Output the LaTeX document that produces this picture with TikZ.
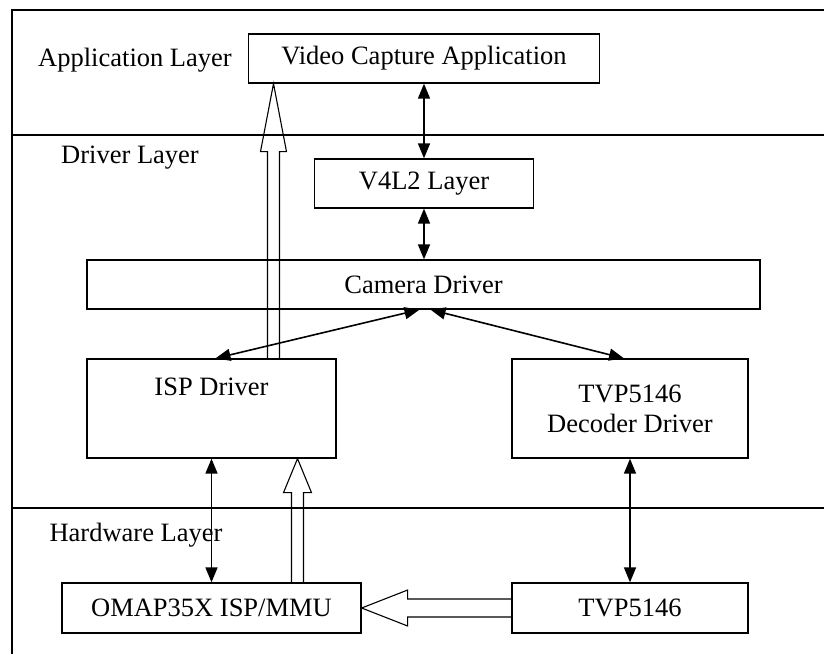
\documentclass[tikz,border=0pt]{standalone}
\usepackage{fontspec}
\setmainfont{Liberation Serif}
\usetikzlibrary{arrows.meta,calc}

\begin{document}
\begin{tikzpicture}[x=1pt,y=-1pt,
  every node/.style={font=\fontsize{26.5}{30}\selectfont},
  box/.style={draw, line width=1.3pt, inner sep=0pt},
  both/.style={line width=1.6pt, {Triangle[length=15pt,width=12pt]}-{Triangle[length=15pt,width=12pt]}},
  hollow/.style={line width=1.1pt, line join=miter},
  layer/.style={line width=1.2pt}]
\useasboundingbox (0,0) rectangle (824,654);
% frame and layer borders
\draw[layer] (824,10) -- (12,10) -- (12,654);
\draw[layer] (12,135) -- (824,135);
\draw[layer] (12,508) -- (824,508);
% layer names
\node (applayer) at (135,60) {Application Layer};
\node (drvlayer) at (130,158) {Driver Layer};
\node (hwlayer) at (136,535) {Hardware Layer};
% blocks
\node[box, minimum width=351, minimum height=49] (vca) at (424,58.5) {Video Capture Application};
\node[box, minimum width=219, minimum height=49] (v4l2) at (424,183.5) {V4L2 Layer};
\node[box, minimum width=673, minimum height=49] (cam) at (423.5,284.5) {Camera Driver};
\node[box, minimum width=249, minimum height=99,
  label={[anchor=center, label distance=-28pt]90:ISP Driver}] (isp) at (211.5,408.5) {};
\node[box, minimum width=236, minimum height=99, align=center] (dec) at (630,408.5) {TVP5146\\Decoder Driver};
\node[box, minimum width=299, minimum height=50] (omap) at (211.5,608) {OMAP35X ISP/MMU};
\node[box, minimum width=236, minimum height=50] (tvp) at (630,608) {TVP5146};
% control paths
\draw[both] (vca.south) -- (v4l2.north);
\draw[both] (v4l2.south) -- (v4l2.south |- cam.north);
\draw[both] ([xshift=-4pt]cam.south) -- ([xshift=4pt]isp.north);
\draw[both] ([xshift=7pt]cam.south) -- ([xshift=-6pt]dec.north);
\draw[both] (isp.south) -- (omap.north);
\draw[both] (dec.south) -- (tvp.north);
% data paths
\coordinate (up1) at ($(isp.north)+(62,0)$);
\coordinate (tip1) at (up1 |- vca.south);
\draw[hollow] ($(up1)+(-6,0)$) -- ($(tip1)+(-6,68)$) -- ++(-7,0) -- (tip1) -- ++(13,68) -- ++(-7,0) -- ($(up1)+(6,0)$);
\coordinate (up2) at ($(omap.north)+(86,0)$);
\coordinate (tip2) at (up2 |- isp.south);
\draw[hollow] ($(up2)+(-6,0)$) -- ($(tip2)+(-6,34)$) -- ++(-8,0) -- (tip2) -- ++(14,34) -- ++(-8,0) -- ($(up2)+(6,0)$);
\draw[hollow] ($(tvp.west)+(0,-9)$) -- ($(omap.east)+(46,-9)$) -- ++(0,-9) -- (omap.east) -- ++(46,18) -- ++(0,-9) -- ($(tvp.west)+(0,9)$);
\end{tikzpicture}
\end{document}
